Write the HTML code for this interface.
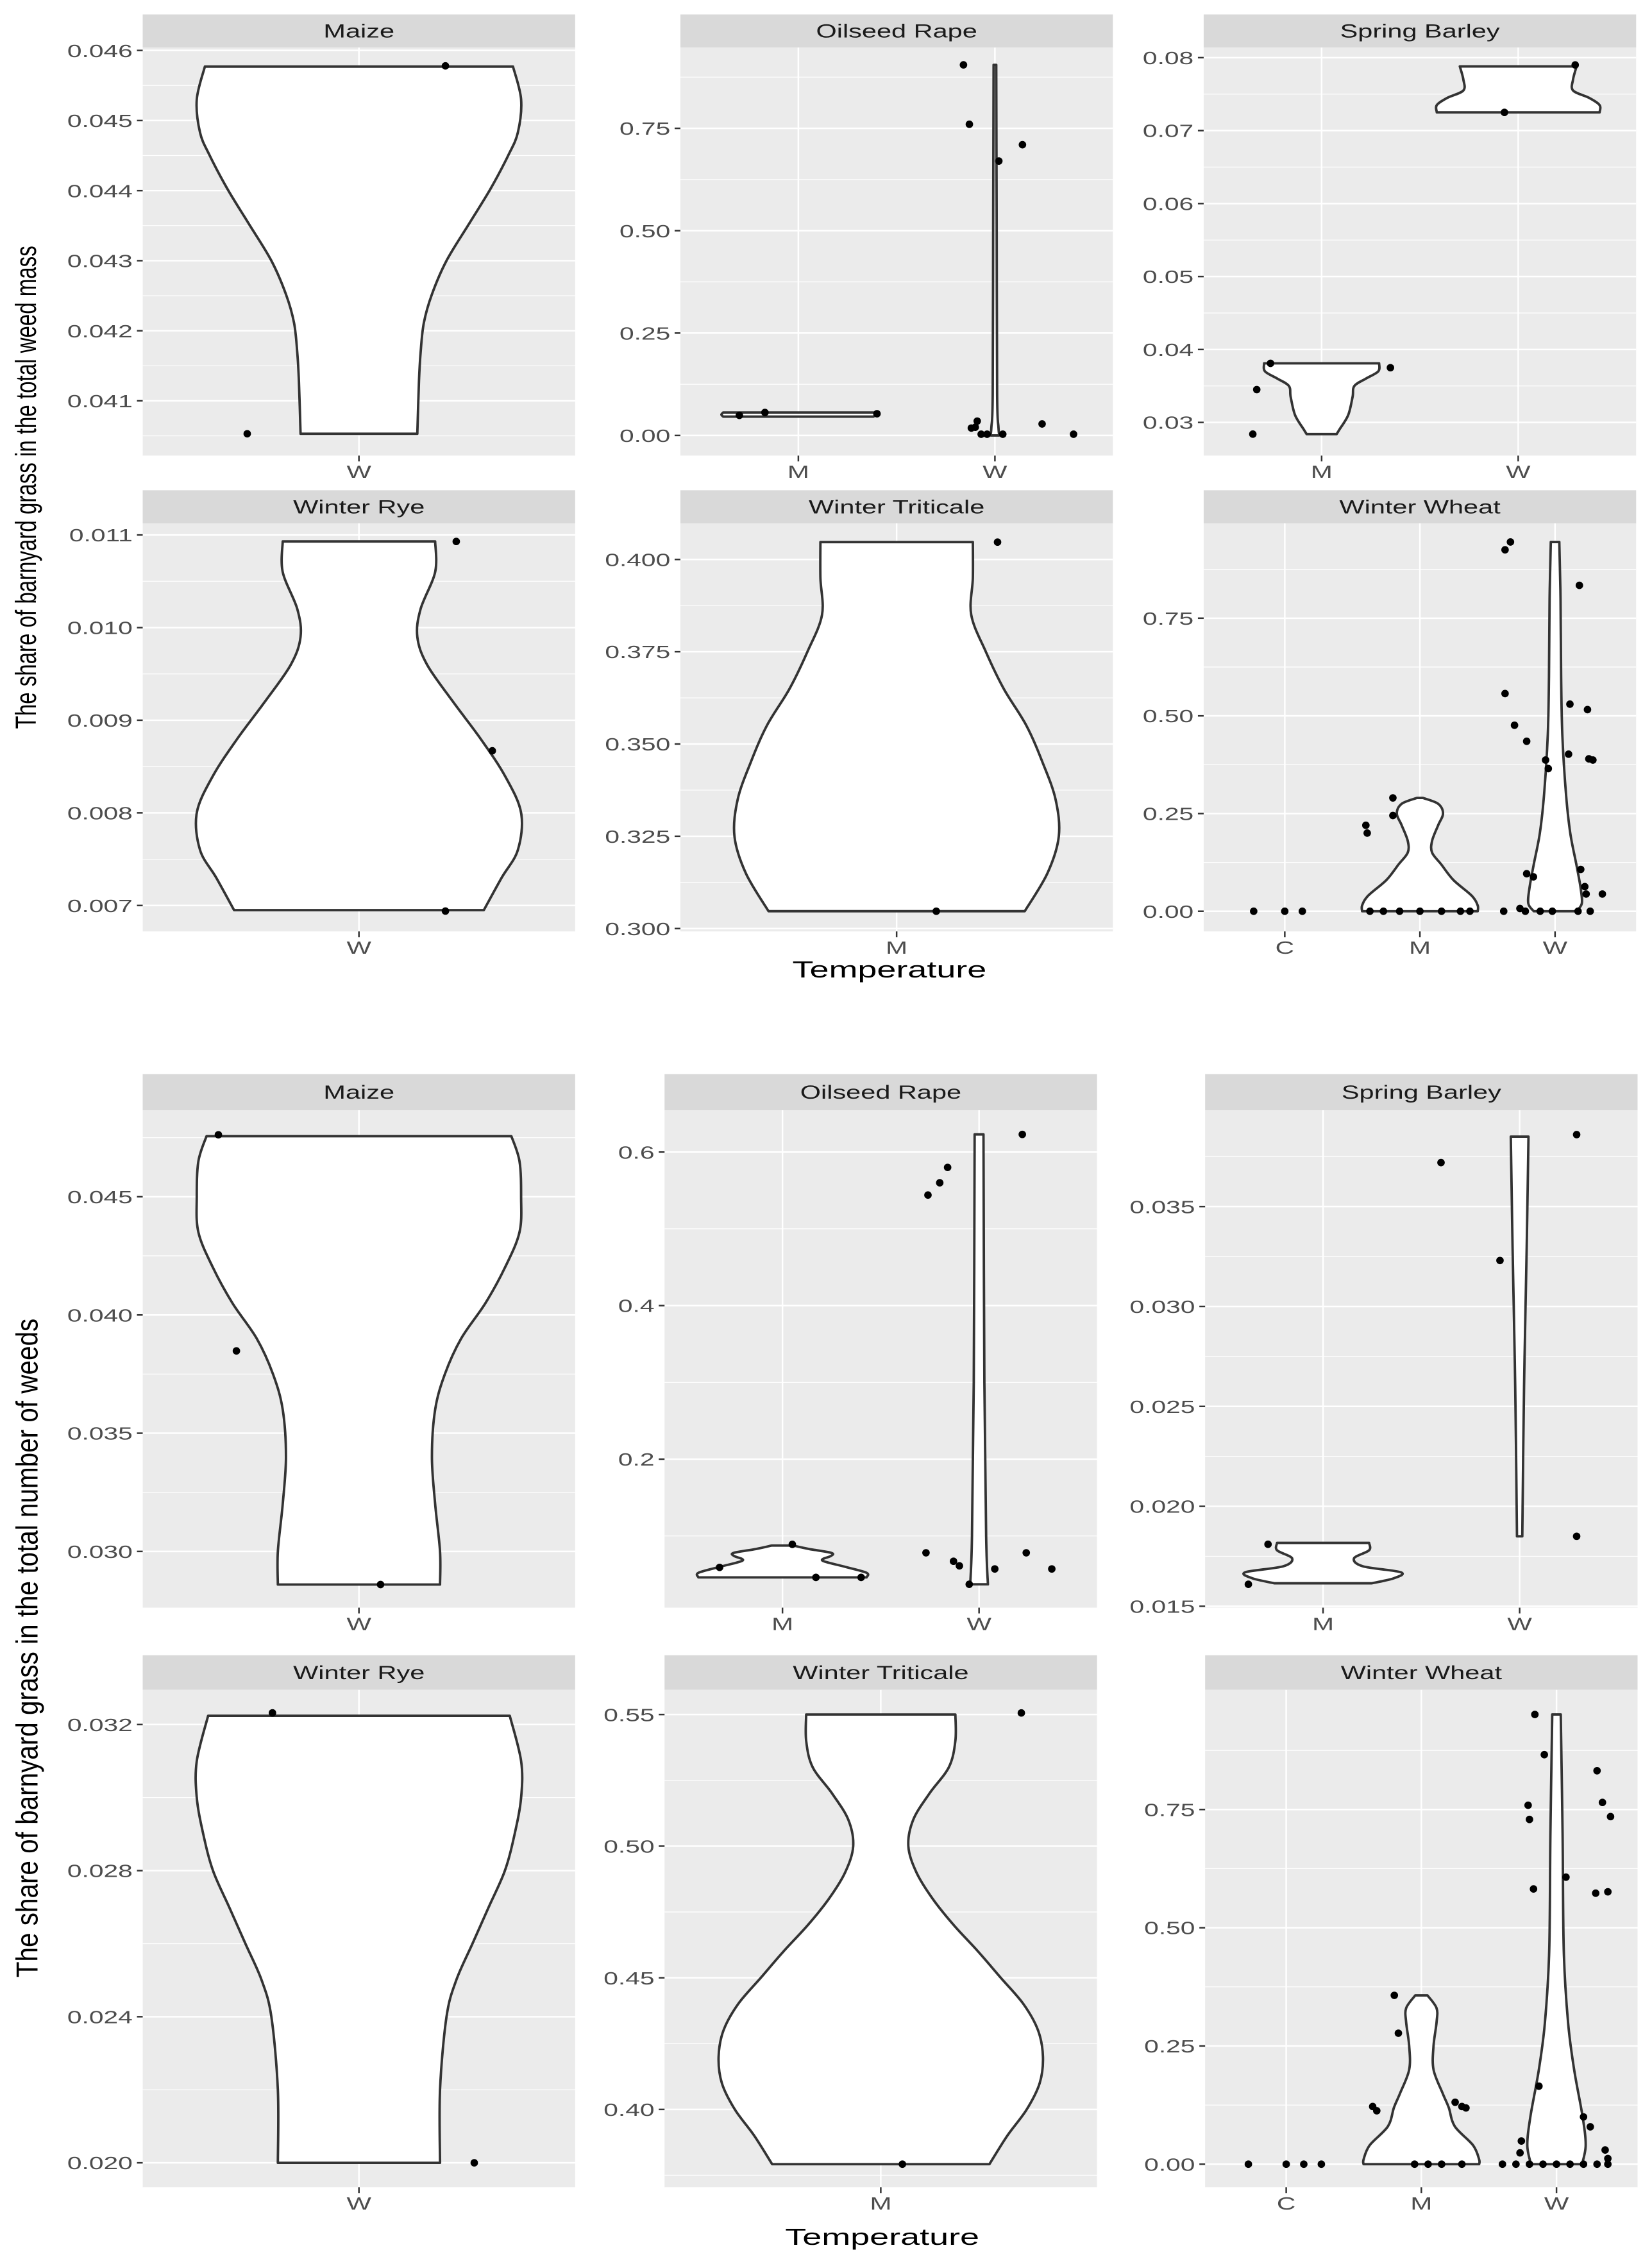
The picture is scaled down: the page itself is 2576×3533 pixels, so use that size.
<!DOCTYPE html>
<html><head><meta charset="utf-8"><title>Barnyard grass share violins</title>
<style>html,body{margin:0;padding:0;background:#fff}svg{display:block}</style></head>
<body>
<svg id="chart" xmlns="http://www.w3.org/2000/svg" width="2576" height="3533" viewBox="0 0 1146 1571.6" preserveAspectRatio="none" font-family="'Liberation Sans', Arial, sans-serif"></svg>
<script>
// ===== DATA =====
const tMaizeTicks=[0.041,0.042,0.043,0.044,0.045,0.046];
const tMaizeLabels=["0.041","0.042","0.043","0.044","0.045","0.046"];
const tMaizeCats=["W"];
const tMaizeViolinW=[[0.04053,0.36],[0.04127,0.37],[0.04168,0.38],[0.04211,0.4],[0.04252,0.45],[0.043,0.54],[0.04353,0.68],[0.04402,0.81],[0.0445,0.92],[0.04483,0.98],[0.0453,1.0],[0.04577,0.95]];
const tMaizePoints=[[0,0.24,0.04578],[0,-0.31,0.04053]];

const tRapeTicks=[0,0.25,0.5,0.75];
const tRapeLabels=["0.00","0.25","0.50","0.75"];
const tRapeCats=["M","W"];
const tRapeViolinM=[[0.046,0.85],[0.051,0.87],[0.056,0.85]];
const tRapeViolinW=[[0,0.05],[0.02,0.04],[0.1,0.025],[0.5,0.02],[0.905,0.015]];
const tRapePoints=[[0,-0.30,0.049],[0,-0.17,0.056],[0,0.40,0.053],[1,-0.16,0.905],[1,-0.13,0.76],[1,0.02,0.67],[1,0.14,0.71],[1,-0.12,0.018],[1,-0.09,0.035],[1,-0.07,0.003],[1,-0.04,0.003],[1,0.04,0.003],[1,0.24,0.028],[1,0.40,0.003],[1,-0.10,0.02]];

const tBarleyTicks=[0.03,0.04,0.05,0.06,0.07,0.08];
const tBarleyLabels=["0.03","0.04","0.05","0.06","0.07","0.08"];
const tBarleyCats=["M","W"];
const tBarleyViolinM=[[0.0284,0.17],[0.029,0.2],[0.031,0.3],[0.0335,0.35],[0.035,0.37],[0.036,0.5],[0.037,0.64],[0.0381,0.65]];
const tBarleyViolinW=[[0.0725,0.92],[0.0735,0.92],[0.0745,0.8],[0.0755,0.62],[0.077,0.62],[0.0788,0.66]];
const tBarleyPoints=[[0,-0.35,0.0284],[0,-0.33,0.0345],[0,-0.26,0.0381],[0,0.35,0.0375],[1,-0.07,0.0725],[1,0.29,0.079]];

const tRyeTicks=[0.007,0.008,0.009,0.010,0.011];
const tRyeLabels=["0.007","0.008","0.009","0.010","0.011"];
const tRyeCats=["W"];
const tRyeViolinW=[[0.00695,0.77],[0.0073,0.88],[0.0076,0.98],[0.008,1.0],[0.0084,0.9],[0.0088,0.75],[0.0092,0.58],[0.0096,0.42],[0.0099,0.36],[0.0102,0.38],[0.0106,0.47],[0.01093,0.47]];
const tRyePoints=[[0,0.27,0.01093],[0,0.37,0.00867],[0,0.24,0.00694]];

const tTritTicks=[0.3,0.325,0.35,0.375,0.4];
const tTritLabels=["0.300","0.325","0.350","0.375","0.400"];
const tTritCats=["M"];
const tTritViolinM=[[0.3047,0.79],[0.315,0.93],[0.325,1.0],[0.335,0.98],[0.345,0.9],[0.355,0.8],[0.365,0.66],[0.375,0.55],[0.385,0.46],[0.395,0.47],[0.4047,0.47]];
const tTritPoints=[[0,0.28,0.4047],[0,0.11,0.3047]];

const tWheatTicks=[0,0.25,0.5,0.75];
const tWheatLabels=["0.00","0.25","0.50","0.75"];
const tWheatCats=["C","M","W"];
const tWheatViolinM=[[0,0.95],[0.015,0.95],[0.04,0.85],[0.08,0.55],[0.12,0.35],[0.15,0.2],[0.18,0.2],[0.22,0.3],[0.25,0.38],[0.275,0.3],[0.29,0.05]];
const tWheatViolinW=[[0,0.35],[0.02,0.44],[0.06,0.42],[0.12,0.35],[0.2,0.25],[0.3,0.18],[0.45,0.12],[0.6,0.1],[0.8,0.09],[0.945,0.07]];
const tWheatPoints=[[0,-0.23,0],[0,0,0],[0,0.13,0],
 [1,-0.4,0.22],[1,-0.39,0.2],[1,-0.2,0.29],[1,-0.2,0.245],[1,-0.37,0],[1,-0.27,0],[1,-0.15,0],[1,0,0],[1,0.16,0],[1,0.3,0],[1,0.37,0],
 [2,-0.33,0.945],[2,-0.37,0.925],[2,0.18,0.834],[2,-0.37,0.557],[2,-0.3,0.476],[2,-0.21,0.435],[2,-0.07,0.387],[2,0.11,0.53],[2,0.24,0.516],[2,0.1,0.402],[2,0.25,0.39],[2,0.28,0.387],[2,-0.05,0.365],[2,-0.21,0.096],[2,-0.16,0.088],[2,0.19,0.107],[2,0.22,0.063],[2,0.23,0.044],[2,0.35,0.044],[2,-0.38,0],[2,-0.26,0.007],[2,-0.11,0],[2,-0.02,0],[2,0.17,0],[2,0.26,0],[2,-0.22,0]];

const bMaizeTicks=[0.030,0.035,0.040,0.045];
const bMaizeLabels=["0.030","0.035","0.040","0.045"];
const bMaizeCats=["W"];
const bMaizeViolinW=[[0.0286,0.5],[0.03,0.5],[0.032,0.47],[0.034,0.45],[0.036,0.47],[0.0375,0.53],[0.039,0.63],[0.0405,0.78],[0.042,0.9],[0.0435,0.99],[0.045,1.0],[0.0465,0.99],[0.04756,0.94]];
const bMaizePoints=[[0,-0.39,0.04762],[0,-0.34,0.03848],[0,0.06,0.0286]];

const bRapeTicks=[0.2,0.4,0.6];
const bRapeLabels=["0.2","0.4","0.6"];
const bRapeCats=["M","W"];
const bRapeViolinM=[[0.046,0.95],[0.052,0.95],[0.06,0.7],[0.068,0.45],[0.074,0.55],[0.078,0.55],[0.083,0.3],[0.0875,0.12]];
const bRapeViolinW=[[0.037,0.1],[0.1,0.08],[0.3,0.06],[0.623,0.05]];
const bRapePoints=[[0,-0.32,0.059],[0,0.05,0.089],[0,0.17,0.046],[0,0.4,0.046],
 [1,-0.26,0.544],[1,-0.2,0.56],[1,-0.16,0.58],[1,0.22,0.623],[1,-0.27,0.078],[1,-0.13,0.067],[1,-0.1,0.061],[1,-0.05,0.037],[1,0.08,0.057],[1,0.24,0.078],[1,0.37,0.057]];

const bBarleyTicks=[0.015,0.020,0.025,0.030,0.035];
const bBarleyLabels=["0.015","0.020","0.025","0.030","0.035"];
const bBarleyCats=["M","W"];
const bBarleyViolinM=[[0.01615,0.55],[0.0164,0.8],[0.0167,0.88],[0.017,0.45],[0.0174,0.35],[0.0178,0.52],[0.01817,0.52]];
const bBarleyViolinW=[[0.0185,0.03],[0.026,0.05],[0.033,0.08],[0.0385,0.1]];
const bBarleyPoints=[[0,-0.38,0.0161],[0,-0.28,0.0181],[1,-0.4,0.0372],[1,-0.1,0.0323],[1,0.29,0.0386],[1,0.29,0.0185]];

const bRyeTicks=[0.020,0.024,0.028,0.032];
const bRyeLabels=["0.020","0.024","0.028","0.032"];
const bRyeCats=["W"];
const bRyeViolinW=[[0.02,0.5],[0.022,0.5],[0.024,0.54],[0.025,0.6],[0.026,0.7],[0.027,0.8],[0.028,0.9],[0.029,0.96],[0.03,1.0],[0.031,1.0],[0.03224,0.93]];
const bRyePoints=[[0,-0.24,0.03232],[0,0.32,0.02]];

const bTritTicks=[0.40,0.45,0.50,0.55];
const bTritLabels=["0.40","0.45","0.50","0.55"];
const bTritCats=["M"];
const bTritViolinM=[[0.3792,0.67],[0.39,0.78],[0.40,0.9],[0.41,0.98],[0.42,1.0],[0.43,0.97],[0.44,0.88],[0.45,0.74],[0.46,0.6],[0.47,0.45],[0.48,0.32],[0.49,0.22],[0.50,0.17],[0.51,0.2],[0.52,0.3],[0.53,0.42],[0.54,0.46],[0.55,0.46]];
const bTritPoints=[[0,0.39,0.5506],[0,0.06,0.3792]];

const bWheatTicks=[0,0.25,0.5,0.75];
const bWheatLabels=["0.00","0.25","0.50","0.75"];
const bWheatCats=["C","M","W"];
const bWheatViolinM=[[0,0.95],[0.01,0.95],[0.04,0.85],[0.08,0.55],[0.12,0.45],[0.15,0.35],[0.2,0.2],[0.25,0.2],[0.3,0.25],[0.33,0.25],[0.357,0.1]];
const bWheatViolinW=[[0,0.42],[0.04,0.48],[0.1,0.43],[0.2,0.29],[0.3,0.19],[0.45,0.12],[0.7,0.1],[0.951,0.07]];
const bWheatPoints=[[0,-0.28,0],[0,0,0],[0,0.13,0],[0,0.26,0],
 [1,-0.2,0.357],[1,-0.17,0.277],[1,-0.36,0.122],[1,-0.33,0.113],[1,0.25,0.131],[1,0.3,0.122],[1,0.33,0.119],[1,-0.05,0],[1,0.05,0],[1,0.15,0],[1,0.3,0],
 [2,-0.16,0.951],[2,-0.09,0.866],[2,-0.21,0.759],[2,-0.2,0.729],[2,0.07,0.607],[2,-0.17,0.582],[2,0.3,0.832],[2,0.34,0.765],[2,0.4,0.735],[2,0.29,0.573],[2,0.38,0.576],[2,-0.13,0.165],[2,0.2,0.1],[2,0.25,0.079],[2,-0.26,0.049],[2,-0.27,0.024],[2,0.36,0.03],[2,0.38,0.012],
 [2,-0.4,0],[2,-0.3,0],[2,-0.2,0],[2,-0.1,0],[2,0,0],[2,0.1,0],[2,0.2,0],[2,0.3,0],[2,0.38,0]];

// ===== LAYOUT / DRAWING =====
const NS="http://www.w3.org/2000/svg";
const svg=document.getElementById('chart');
function mk(tag,attrs,parent){const e=document.createElementNS(NS,tag);for(const k in attrs)e.setAttribute(k,attrs[k]);(parent||svg).appendChild(e);return e;}
function txt(parent,x,y,s,size,anchor,fill,sx,name){
  const t=mk('text',{transform:`translate(${x},${y}) scale(${sx},1)`,'text-anchor':anchor,'font-size':size,fill:fill},parent);
  t.textContent=s;
  
  
  return t;
}
function smoothPath(pts){
  let d=`M${pts[0][0]},${pts[0][1]}`;
  for(let i=0;i<pts.length-1;i++){
    const p0=pts[Math.max(i-1,0)],p1=pts[i],p2=pts[i+1],p3=pts[Math.min(i+2,pts.length-1)];
    const c1=[p1[0]+(p2[0]-p0[0])/6,p1[1]+(p2[1]-p0[1])/6];
    const c2=[p2[0]-(p3[0]-p1[0])/6,p2[1]-(p3[1]-p1[1])/6];
    d+=` C${c1[0]},${c1[1]} ${c2[0]},${c2[1]} ${p2[0]},${p2[1]}`;
  }
  return d;
}
function drawPanel(cfg){
  const {x0,y0,y1,sh,title,lo,hi,ticks,labels,cats,violins,points,name}=cfg;
  const w=300;
  const g=mk('g',{});
  
  
  const strip=mk('rect',{x:x0,y:y0-sh,width:w,height:sh,fill:'#d9d9d9'},g);
  
  
  txt(g,x0+w/2,y0-sh/2+4.6,title,13,'middle','#1a1a1a',1.42,name+'-strip-label');
  const bg=mk('rect',{x:x0,y:y0,width:w,height:y1-y0,fill:'#ebebeb'},g);
  
  
  const Y=v=>y1-(v-lo)/(hi-lo)*(y1-y0);
  const n=cats.length, unit=w/(n+0.2), maxHw=0.45*unit;
  const CX=i=>x0+(i+0.6)*unit;
  const step=ticks.length>1?ticks[1]-ticks[0]:1;
  const minors=[ticks[0]-step/2];
  for(let i=0;i<ticks.length;i++)minors.push(ticks[i]+step/2);
  minors.forEach(v=>{const y=Y(v);if(y>y0&&y<y1){const l=mk('line',{x1:x0,x2:x0+w,y1:y,y2:y,stroke:'#fff','stroke-width':0.55},g);
    
    }});
  ticks.forEach((v,i)=>{const y=Y(v);
    const l=mk('line',{x1:x0,x2:x0+w,y1:y,y2:y,stroke:'#fff','stroke-width':1.1},g);
    
    
    const tk=mk('line',{x1:x0-4,x2:x0,y1:y,y2:y,stroke:'#333','stroke-width':1.1},g);
    
    
    txt(g,x0-7,y+4.5,labels[i],12.5,'end','#4d4d4d',1.45,'y-tick-label');
  });
  cats.forEach((c,i)=>{const x=CX(i);
    const l=mk('line',{x1:x,x2:x,y1:y0,y2:y1,stroke:'#fff','stroke-width':1.1},g);
    
    
    const tk=mk('line',{x1:x,x2:x,y1:y1,y2:y1+4,stroke:'#333','stroke-width':1.1},g);
    
    
    txt(g,x,y1+15.5,c,12.5,'middle','#4d4d4d',1.45,'x-tick-label');
  });
  violins.forEach((prof,i)=>{ if(!prof)return; const cx=CX(i);
    const left=prof.map(p=>[cx-p[1]*maxHw,Y(p[0])]);
    const right=prof.map(p=>[cx+p[1]*maxHw,Y(p[0])]).reverse();
    let d=smoothPath(left);
    d+=' L'+right[0][0]+','+right[0][1]+' '+smoothPath(right).slice(1)+' Z';
    const pth=mk('path',{d:d,fill:'#fff',stroke:'#333','stroke-width':1.7,'stroke-linejoin':'round'},g);
    
    
  });
  points.forEach(p=>{
    const c=mk('circle',{cx:CX(p[0])+p[1]*unit,cy:Y(p[2]),r:2.6,fill:'#000'},g);
    
    
  });
}
const panels=[
 {name:'top-maize',title:'Maize',x0:99,y0:33,y1:316,sh:23,lo:0.040218,hi:0.046041,ticks:tMaizeTicks,labels:tMaizeLabels,cats:tMaizeCats,violins:[tMaizeViolinW],points:tMaizePoints},
 {name:'top-oilseed-rape',title:'Oilseed Rape',x0:472,y0:33,y1:316,sh:23,lo:-0.0493,hi:0.9472,ticks:tRapeTicks,labels:tRapeLabels,cats:tRapeCats,violins:[tRapeViolinM,tRapeViolinW],points:tRapePoints},
 {name:'top-spring-barley',title:'Spring Barley',x0:835,y0:33,y1:316,sh:23,lo:0.02545,hi:0.08138,ticks:tBarleyTicks,labels:tBarleyLabels,cats:tBarleyCats,violins:[tBarleyViolinM,tBarleyViolinW],points:tBarleyPoints},
 {name:'top-winter-rye',title:'Winter Rye',x0:99,y0:363,y1:646,sh:23,lo:0.00672,hi:0.011125,ticks:tRyeTicks,labels:tRyeLabels,cats:tRyeCats,violins:[tRyeViolinW],points:tRyePoints},
 {name:'top-winter-triticale',title:'Winter Triticale',x0:472,y0:363,y1:646,sh:23,lo:0.29922,hi:0.40977,ticks:tTritTicks,labels:tTritLabels,cats:tTritCats,violins:[tTritViolinM],points:tTritPoints},
 {name:'top-winter-wheat',title:'Winter Wheat',x0:835,y0:363,y1:646,sh:23,lo:-0.0517,hi:0.9926,ticks:tWheatTicks,labels:tWheatLabels,cats:tWheatCats,violins:[null,tWheatViolinM,tWheatViolinW],points:tWheatPoints},
 {name:'bottom-maize',title:'Maize',x0:99,y0:770,y1:1115,sh:25,lo:0.027622,hi:0.048659,ticks:bMaizeTicks,labels:bMaizeLabels,cats:bMaizeCats,violins:[bMaizeViolinW],points:bMaizePoints},
 {name:'bottom-oilseed-rape',title:'Oilseed Rape',x0:461,y0:770,y1:1115,sh:25,lo:0.00657,hi:0.6545,ticks:bRapeTicks,labels:bRapeLabels,cats:bRapeCats,violins:[bRapeViolinM,bRapeViolinW],points:bRapePoints},
 {name:'bottom-spring-barley',title:'Spring Barley',x0:836,y0:770,y1:1115,sh:25,lo:0.01493,hi:0.03982,ticks:bBarleyTicks,labels:bBarleyLabels,cats:bBarleyCats,violins:[bBarleyViolinM,bBarleyViolinW],points:bBarleyPoints},
 {name:'bottom-winter-rye',title:'Winter Rye',x0:99,y0:1172,y1:1517,sh:24,lo:0.01933,hi:0.03295,ticks:bRyeTicks,labels:bRyeLabels,cats:bRyeCats,violins:[bRyeViolinW],points:bRyePoints},
 {name:'bottom-winter-triticale',title:'Winter Triticale',x0:461,y0:1172,y1:1517,sh:24,lo:0.37043,hi:0.55937,ticks:bTritTicks,labels:bTritLabels,cats:bTritCats,violins:[bTritViolinM],points:bTritPoints},
 {name:'bottom-winter-wheat',title:'Winter Wheat',x0:836,y0:1172,y1:1517,sh:24,lo:-0.0488,hi:1.00305,ticks:bWheatTicks,labels:bWheatLabels,cats:bWheatCats,violins:[null,bWheatViolinM,bWheatViolinW],points:bWheatPoints}
];
panels.forEach(drawPanel);
txt(svg,617,678,'Temperature',16,'middle','#000',1.5,'top-x-axis-title');
txt(svg,612,1557,'Temperature',16,'middle','#000',1.5,'bottom-x-axis-title');
const yt1=mk('text',{transform:'translate(25,338) rotate(-90)','text-anchor':'middle','font-size':20,fill:'#000',textLength:335,lengthAdjust:'spacingAndGlyphs'});
yt1.textContent='The share of barnyard grass in the total weed mass';


const yt2=mk('text',{transform:'translate(26,1143) rotate(-90)','text-anchor':'middle','font-size':21,fill:'#000',textLength:457,lengthAdjust:'spacingAndGlyphs'});
yt2.textContent='The share of barnyard grass in the total number of weeds';


</script>
</body></html>
